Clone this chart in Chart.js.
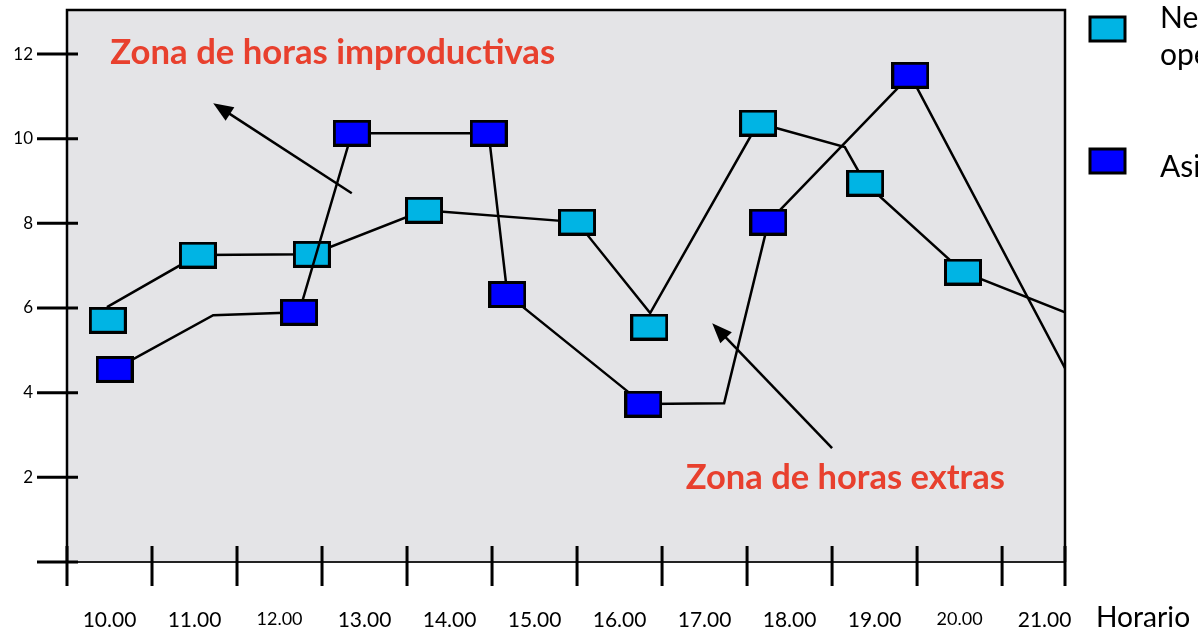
<!DOCTYPE html>
<html>
<head>
<meta charset="utf-8">
<script src="https://cdn.jsdelivr.net/npm/chart.js@4.4.0/dist/chart.umd.min.js"></script>
<style>
  html, body { margin: 0; padding: 0; background: #fff; overflow: hidden; }
  canvas { display: block; }
</style>
</head>
<body>
<canvas id="horasChart" width="1198" height="632"></canvas>
<script>
// Necesidad operativa (cyan): marker positions and the drawn line
const hoursCyanMarks = [9.98, 11.04, 12.38, 13.70, 15.50, 16.35, 17.63, 18.89, 20.04];
const necesidadMarks = [5.71, 7.25, 7.27, 8.31, 8.03, 5.55, 10.37, 8.95, 6.85];
const hoursCyanLine = [9.97, 11.04, 12.38, 13.70, 15.50, 16.36, 17.63, 18.65, 18.89, 20.04, 21.24];
const necesidadLine = [6.02, 7.25, 7.27, 8.31, 8.03, 5.88, 10.37, 9.80, 8.95, 6.85, 5.90];

// Asistencia (blue)
const hoursBlueMarks = [10.06, 12.23, 12.85, 14.46, 14.68, 16.28, 17.75, 19.42];
const asistenciaMarks = [4.55, 5.90, 10.13, 10.13, 6.32, 3.73, 8.03, 11.50];
const hoursBlueLine = [10.06, 11.22, 12.23, 12.85, 14.46, 14.68, 16.28, 17.23, 17.75, 19.42, 21.24];
const asistenciaLine = [4.55, 5.83, 5.90, 10.13, 10.13, 6.32, 3.73, 3.75, 8.03, 11.50, 4.58];

const hourValues = [10, 11, 12, 13, 14, 15, 16, 17, 18, 19, 20, 21];
const hourLabels = ["10.00", "11.00", "12.00", "13.00", "14.00", "15.00", "16.00", "17.00", "18.00", "19.00", "20.00", "21.00"];
const yTicks = [2, 4, 6, 8, 10, 12];

const CYAN = "#00b4e4";
const BLUE = "#0000ff";
const RED = "#e8402e";
const FONT = "Lato, 'Open Sans', sans-serif";

function pts(xs, ys) {
  return xs.map((x, i) => ({ x: x, y: ys[i] }));
}

function markerImage(color) {
  const c = document.createElement("canvas");
  c.width = 38;
  c.height = 27;
  const g = c.getContext("2d");
  g.fillStyle = color;
  g.fillRect(1.5, 1.5, 35, 24);
  g.strokeStyle = "#000";
  g.lineWidth = 3;
  g.strokeRect(1.5, 1.5, 35, 24);
  return c;
}

function fitFont(ctx, text, weight, width) {
  ctx.font = weight + " 100px " + FONT;
  const size = (100 * width) / ctx.measureText(text).width;
  return weight + " " + size.toFixed(1) + "px " + FONT;
}

function arrow(ctx, x1, y1, x2, y2) {
  const ang = Math.atan2(y2 - y1, x2 - x1);
  const len = 20, half = 8;
  ctx.strokeStyle = "#000";
  ctx.fillStyle = "#000";
  ctx.lineWidth = 2.5;
  ctx.beginPath();
  ctx.moveTo(x1, y1);
  ctx.lineTo(x2 - Math.cos(ang) * len * 0.8, y2 - Math.sin(ang) * len * 0.8);
  ctx.stroke();
  ctx.beginPath();
  ctx.moveTo(x2, y2);
  ctx.lineTo(x2 - Math.cos(ang) * len - Math.sin(ang) * half, y2 - Math.sin(ang) * len + Math.cos(ang) * half);
  ctx.lineTo(x2 - Math.cos(ang) * len + Math.sin(ang) * half, y2 - Math.sin(ang) * len - Math.cos(ang) * half);
  ctx.closePath();
  ctx.fill();
}

const framePlugin = {
  id: "frame",
  beforeDraw(chart) {
    const { ctx, chartArea: a } = chart;
    ctx.save();
    ctx.fillStyle = "#e4e4e7";
    ctx.fillRect(a.left, a.top, a.right - a.left, a.bottom - a.top);
    ctx.restore();
  },
  afterDatasetsDraw(chart) {
    const { ctx, chartArea: a, scales } = chart;
    const xs = scales.x, ys = scales.y;
    ctx.save();
    // plot frame
    ctx.strokeStyle = "#000";
    ctx.lineWidth = 2.5;
    ctx.beginPath();
    ctx.moveTo(a.left, a.bottom);
    ctx.lineTo(a.left, a.top);
    ctx.lineTo(a.right, a.top);
    ctx.lineTo(a.right, a.bottom);
    ctx.stroke();
    ctx.strokeStyle = "#222";
    ctx.lineWidth = 2;
    ctx.beginPath();
    ctx.moveTo(37, a.bottom);
    ctx.lineTo(a.right, a.bottom);
    ctx.stroke();
    // tick marks
    ctx.strokeStyle = "#000";
    ctx.lineWidth = 3;
    ctx.beginPath();
    for (let h = 9.5; h < 21; h += 1) {
      const px = xs.getPixelForValue(h);
      ctx.moveTo(px, a.bottom - 16);
      ctx.lineTo(px, a.bottom + 24);
    }
    ctx.moveTo(a.right, a.bottom - 16);
    ctx.lineTo(a.right, a.bottom + 24);
    [0].concat(yTicks).forEach((v) => {
      const py = ys.getPixelForValue(v);
      ctx.moveTo(37, py);
      ctx.lineTo(a.left + 11, py);
    });
    ctx.stroke();

    // zone notes and arrows
    ctx.fillStyle = RED;
    ctx.textBaseline = "middle";
    ctx.textAlign = "left";
    ctx.font = fitFont(ctx, "Zona de horas improductivas", "bold", 445);
    ctx.fillText("Zona de horas improductivas", xs.getPixelForValue(10.01), ys.getPixelForValue(12.02));
    ctx.font = fitFont(ctx, "Zona de horas extras", "bold", 319);
    ctx.fillText("Zona de horas extras", xs.getPixelForValue(16.78), ys.getPixelForValue(1.98));
    arrow(ctx, xs.getPixelForValue(12.85), ys.getPixelForValue(8.71), xs.getPixelForValue(11.22), ys.getPixelForValue(10.84));
    arrow(ctx, xs.getPixelForValue(18.50), ys.getPixelForValue(2.69), xs.getPixelForValue(17.09), ys.getPixelForValue(5.64));
    ctx.restore();
  },
  afterDraw(chart) {
    const { ctx } = chart;
    ctx.save();
    // legend
    [[CYAN, 17], [BLUE, 149]].forEach(([c, y]) => {
      ctx.fillStyle = c;
      ctx.fillRect(1090, y, 35, 24);
      ctx.strokeStyle = "#000";
      ctx.lineWidth = 3;
      ctx.strokeRect(1090, y, 35, 24);
    });
    ctx.fillStyle = "#000";
    ctx.textAlign = "left";
    ctx.textBaseline = "alphabetic";
    ctx.font = "30px " + FONT;
    ctx.fillText("Necesidad", 1160, 28);
    ctx.fillText("operativa", 1160, 65);
    ctx.fillText("Asistencia", 1160, 177);
    // axis title
    ctx.textBaseline = "middle";
    ctx.font = fitFont(ctx, "Horario", "normal", 94);
    ctx.fillText("Horario", 1096, 618);
    ctx.restore();
  },
};

const ctx = document.getElementById("horasChart").getContext("2d");
const horasChart = new Chart(ctx, {
  type: "line",
  data: {
    datasets: [
      {
        label: "Asistencia",
        data: pts(hoursBlueMarks, asistenciaMarks),
        showLine: false,
        pointStyle: markerImage(BLUE),
        order: 1,
      },
      {
        label: "Asistencia línea",
        data: pts(hoursBlueLine, asistenciaLine),
        borderColor: "#000",
        borderWidth: 2.5,
        pointRadius: 0,
        tension: 0,
        order: 2,
      },
      {
        label: "Necesidad operativa",
        data: pts(hoursCyanMarks, necesidadMarks),
        showLine: false,
        pointStyle: markerImage(CYAN),
        order: 3,
      },
      {
        label: "Necesidad línea",
        data: pts(hoursCyanLine, necesidadLine),
        borderColor: "#000",
        borderWidth: 2.5,
        pointRadius: 0,
        tension: 0,
        order: 4,
      },
    ],
  },
  options: {
    responsive: false,
    animation: false,
    devicePixelRatio: 1,
    layout: { padding: { top: 10, right: 133, left: 0, bottom: 0 } },
    plugins: {
      legend: { display: false },
      tooltip: { enabled: false },
    },
    scales: {
      x: {
        type: "linear",
        min: 9.5,
        max: 21.24,
        grid: { display: false, drawTicks: false },
        border: { display: false },
        afterBuildTicks: (s) => {
          s.ticks = hourValues.map((v) => ({ value: v }));
        },
        afterFit: (s) => {
          s.height = 70;
          s.paddingLeft = 0;
          s.paddingRight = 0;
        },
        ticks: {
          autoSkip: false,
          maxRotation: 0,
          padding: 46,
          color: "#000",
          font: (c) => ({
            family: FONT,
            size: c.tick && (c.tick.value === 12 || c.tick.value === 20) ? 18 : 21,
          }),
          callback: (v) => hourLabels[hourValues.indexOf(v)],
        },
      },
      y: {
        min: 0,
        max: 13.04,
        grid: { display: false, drawTicks: false },
        border: { display: false },
        afterBuildTicks: (s) => {
          s.ticks = yTicks.map((v) => ({ value: v }));
        },
        afterFit: (s) => {
          s.width = 67;
          s.paddingTop = 0;
          s.paddingBottom = 0;
        },
        ticks: {
          padding: 34,
          color: "#000",
          font: { family: FONT, size: 17 },
        },
      },
    },
  },
  plugins: [framePlugin],
});
</script>
</body>
</html>
